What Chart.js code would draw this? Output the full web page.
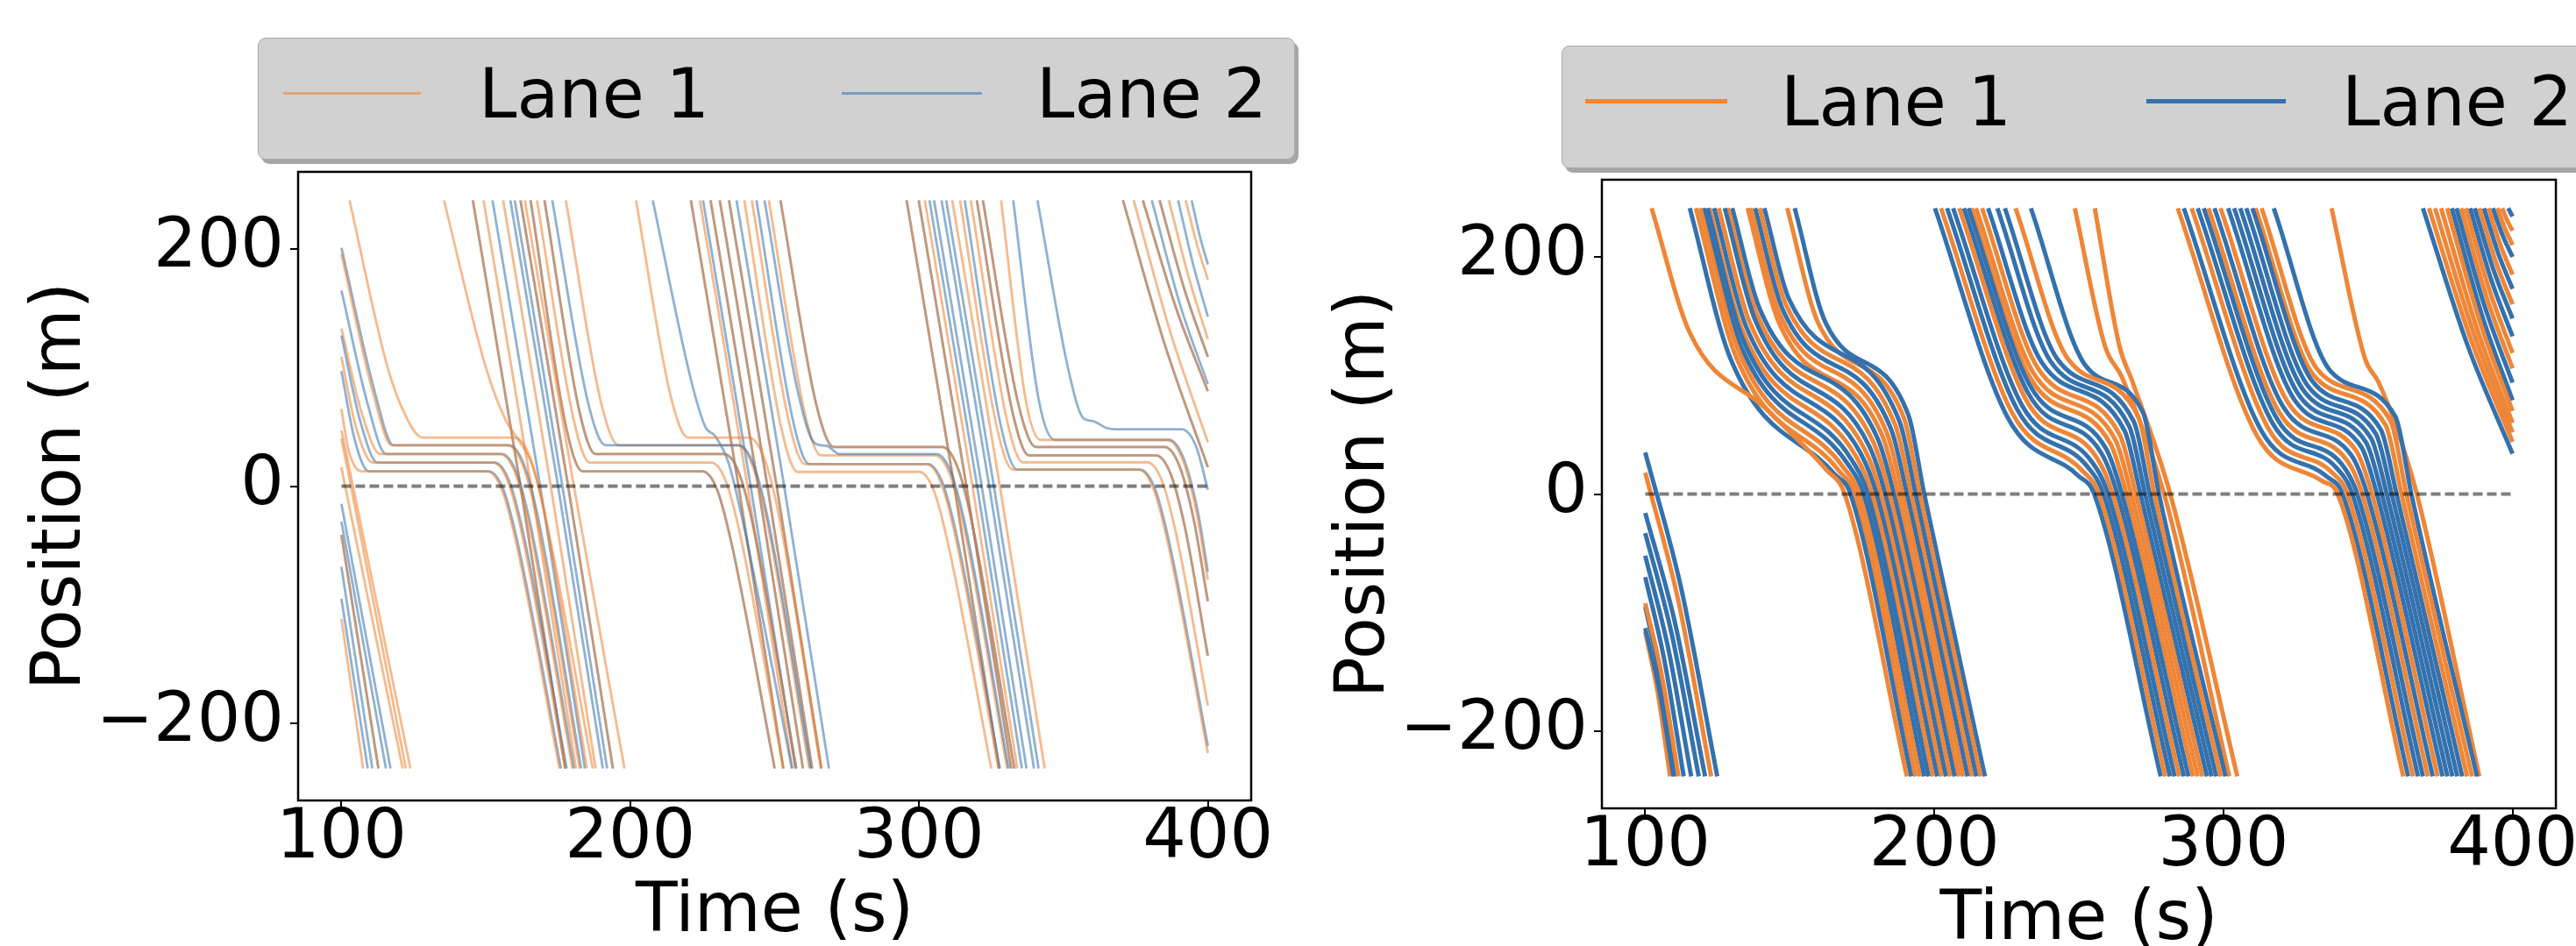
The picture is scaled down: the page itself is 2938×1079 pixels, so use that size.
<!DOCTYPE html>
<html>
<head>
<meta charset="utf-8">
<script src="https://cdn.jsdelivr.net/npm/chart.js@4.4.1/dist/chart.umd.min.js"></script>
<style>
  html, body { margin: 0; padding: 0; background: #fff; overflow: hidden; }
  body { width: 2938px; height: 1079px; position: relative; font-family: 'DejaVu Sans', sans-serif; }
  .wrap { position: absolute; }
  .legend { position: absolute; background: #d1d1d1; border: 1.5px solid #a9a9a9; border-radius: 9px;
            box-shadow: 4px 5px 0 rgba(0,0,0,0.35); box-sizing: border-box; }
  .legend .sw { position: absolute; }
  .legend .lb { position: absolute; font-size: 78px; line-height: 1; color: #000; white-space: nowrap; }
</style>
</head>
<body>
<div class="wrap" style="left:0;top:150px;"><canvas id="leftChart" width="1460" height="945"></canvas></div>
<div class="wrap" style="left:1480px;top:159px;"><canvas id="rightChart" width="1458" height="945"></canvas></div>

<div class="legend" style="left:294px;top:43px;width:1183px;height:139px;">
  <div class="sw" id="lsw1" style="left:28px;top:61px;width:157px;height:3px;"></div>
  <div class="lb" style="left:251px;top:24px;">Lane 1</div>
  <div class="sw" id="lsw2" style="left:665px;top:61px;width:160px;height:3px;"></div>
  <div class="lb" style="left:887px;top:24px;">Lane 2</div>
</div>
<div class="legend" style="left:1781px;top:52px;width:1183px;height:140px;">
  <div class="sw" id="rsw1" style="left:26px;top:60px;width:162px;height:5px;"></div>
  <div class="lb" style="left:249px;top:24px;">Lane 1</div>
  <div class="sw" id="rsw2" style="left:666px;top:60px;width:159px;height:5px;"></div>
  <div class="lb" style="left:889px;top:24px;">Lane 2</div>
</div>

<script>
// axis ticks
const timeTicks = [100, 200, 300, 400];
const posTicks = [-200, 0, 200];
const stopLineT = [100, 400];

// trajectories: lane ('o' lane 1, 'b' lane 2, 'g' both lanes on top of each other), then time,position pairs

// ---------- left panel ----------
const leftStart = [
  ['o', 100,-112, 107.5,-238],
  ['b', 100,-95, 109.1,-238],
  ['b', 100,-68, 110.7,-238],
  ['g', 100,-41, 112.8,-238],
  ['b', 100,-30, 115.4,-238],
  ['b', 100,-15, 117,-238],
  ['o', 100,16, 101.3,0, 121.2,-238],
  ['o', 100,40, 103.3,0, 122.3,-238],
  ['o', 100,47, 104,0, 123.9,-238]
];
const leftQueue1 = [
  ['o', 100,65, 102.5,30, 107,12.5, 150.5,12.5, 155.5,-2.5, 160.5,-47.5, 175.5,-238],
  ['b', 100,97, 104.5,40, 109.5,12.5, 151,12.5, 156,-2.5, 161,-47.5, 176,-238],
  ['o', 100,109, 105,50, 111,19.8, 152.5,19.8, 157.5,4.8, 162.5,-40.2, 177.5,-238],
  ['b', 100,127, 106.5,55, 112.5,19.8, 153,19.8, 158,4.8, 163,-40.2, 178,-238],
  ['o', 100,133, 107,62, 113.5,27, 155,27, 160,12, 165,-33, 180,-238],
  ['b', 100,165, 109,70, 115.5,27, 155.5,27, 160.5,12, 165.5,-33, 180.5,-238],
  ['o', 100,196, 111,78, 117.5,34.4, 157.5,34.4, 162.5,19.4, 167.5,-25.6, 182.5,-238],
  ['b', 100,201, 111.5,80, 118,34.4, 158,34.4, 163,19.4, 168,-25.6, 183,-238],
  ['o', 102.8,241, 116,100, 122.5,58, 128,41, 160,41, 165,26, 170,-19, 185,-238],
  ['o', 135.5,241, 150,100, 157,55, 161,40, 166,18, 171,-30, 187,-238]
];
const leftPass1 = [
  ['g', 145.5,241, 162,0, 177.5,-238],
  ['o', 149.2,241, 165.7,0, 181.2,-238],
  ['b', 152.3,241, 168.8,0, 184.3,-238],
  ['o', 156,241, 172.5,0, 188,-238],
  ['b', 158.5,241, 175,0, 190.5,-238],
  ['b', 160,241, 176.5,0, 192,-238],
  ['g', 162,241, 178.5,0, 194,-238],
  ['o', 163.5,241, 180.5,0, 198,-238]
];
const leftQueue2 = [
  ['g', 165.5,241, 178,47.5, 183.5,12.5, 225,12.5, 230,-2.5, 235,-47.5, 250,-238],
  ['o', 167.7,241, 180.5,55, 186,19.8, 228,19.8, 233,4.8, 238,-40.2, 253,-238],
  ['g', 170.3,241, 182.5,62, 188,27, 232.5,27, 237.5,12, 242.5,-33, 257.5,-238],
  ['b', 173,241, 185.5,69.4, 191.5,34.4, 237.5,34.4, 242.5,19.4, 247.5,-25.6, 262.5,-238],
  ['o', 177.7,241, 190,69.4, 196,34.4, 237,34.4, 242,19.4, 247,-25.6, 262,-238],
  ['o', 202,241, 214,76, 220,41, 241,41, 246,26, 251,-19, 266,-238],
  ['b', 207.8,241, 221,90, 226,50, 229.5,42, 234,20, 239,-30, 256,-238]
];
const leftPass2 = [
  ['g', 221,241, 237.5,0, 253,-238],
  ['o', 224.1,241, 240.6,0, 256.1,-238],
  ['b', 225.2,241, 241.7,0, 257.2,-238],
  ['g', 227.8,241, 244.3,0, 259.8,-238],
  ['g', 231,241, 247.5,0, 263,-238],
  ['g', 234.2,241, 250.7,0, 266.2,-238],
  ['b', 236.8,241, 253.3,0, 268.8,-238]
];
const leftQueue3 = [
  ['o', 239.5,241, 252.5,47, 258,12, 300,12, 305,-3, 310,-48, 325,-238],
  ['o', 242.1,241, 255,53.6, 260.5,18.6, 302.5,18.6, 307.5,3.6, 312.5,-41.4, 327.5,-238],
  ['b', 243.7,241, 256.5,53.6, 262,18.6, 303,18.6, 308,3.6, 313,-41.4, 328,-238],
  ['b', 246.5,241, 258,80, 264,36, 268,34, 272.5,27, 306,27, 311,12, 316,-33, 331,-238],
  ['o', 248,241, 260.5,61, 266,26, 305.5,26, 310.5,11, 315.5,-34, 330.5,-238],
  ['g', 252,241, 264.5,68, 270.5,33, 308,33, 313,18, 318,-27, 333,-238]
];
const leftPass3 = [
  ['g', 295.7,241, 312.2,0, 327.7,-238],
  ['g', 299.9,241, 316.4,0, 331.9,-238],
  ['o', 302,241, 318.5,0, 334,-238],
  ['b', 303.6,241, 320.1,0, 335.6,-238],
  ['b', 305.2,241, 321.7,0, 337.2,-238],
  ['b', 307.8,241, 324.3,0, 339.8,-238],
  ['b', 309.4,241, 325.9,0, 341.4,-238],
  ['o', 311.5,241, 328,0, 343.5,-238]
];
const leftQueue4 = [
  ['o', 314.2,241, 327,49, 332.5,14, 376,14, 381,-1, 386,-46, 400,-225],
  ['b', 315.8,241, 328.5,49, 334,14, 376.5,14, 381.5,-1, 386.5,-46, 400,-219],
  ['o', 317.9,241, 330.5,55, 336,20, 379,20, 384,5, 389,-40, 400,-185],
  ['g', 320,241, 332.5,61, 338,26, 382,26, 387,11, 392,-34, 400,-143],
  ['g', 322.1,241, 334.5,68, 340.5,33, 385,33, 390,18, 395,-27, 400,-97],
  ['o', 328.4,241, 337,72, 342,39, 386,39, 391,24, 396,-21, 400,-79],
  ['b', 332.6,241, 341.5,72, 347,39, 386.5,39, 391.5,24, 396.5,-21, 400,-72],
  ['b', 341,241, 352,95, 357,57, 360,55, 365,49, 368,48, 391,48, 396,33, 400,-3]
];
const leftPass4 = [
  ['g', 370.6,241, 385,120, 400,16],
  ['o', 374.3,241, 387,130, 400,37],
  ['g', 377.5,241, 389,150, 400,80],
  ['b', 380.6,241, 390.5,152, 400,86],
  ['g', 383.3,241, 392,165, 400,109],
  ['o', 386.5,241, 393.5,175, 400,124],
  ['b', 389.7,241, 395,186, 400,143],
  ['o', 392.3,241, 396.2,204, 400,174],
  ['b', 394.4,241, 397.2,211, 400,187]
];

// ---------- right panel ----------
const rightStart = [
  ['b', 100,35, 112.45,-79.7, 124.9,-238],
  ['o', 100,18, 111.4,-89.5, 122.8,-238],
  ['b', 100,-16, 110.35,-109.2, 120.7,-238],
  ['b', 100,-33, 109.25,-119.1, 118.5,-238],
  ['b', 100,-52, 107.95,-130.1, 115.9,-238],
  ['b', 100,-70, 106.65,-140.6, 113.3,-238],
  ['o', 100,-92, 105.75,-153.3, 111.5,-238],
  ['b', 100,-95, 105.25,-155, 110.5,-238],
  ['b', 100,-113, 104.9,-165.5, 109.8,-238],
  ['o', 100,-116, 104.3,-167.2, 108.6,-238]
];
const rightWave1 = [
  ['o', 102.2,241, 115.4,136, 141.7,72, 162.8,20, 169,0, 190.5,-238],
  ['b', 115.4,241, 129.5,114, 165.5,16.7, 171,0, 192,-238],
  ['o', 117.5,241, 131.4,115.9, 167,19.6, 172.5,0, 193.5,-238],
  ['o', 119,241, 132.5,119.5, 168.5,22.6, 174,0, 195,-238],
  ['b', 120.1,241, 132.9,125.8, 170,25.5, 175.5,0, 196.5,-238],
  ['b', 121.5,241, 133.8,130.3, 171.5,28.5, 177,0, 198,-238],
  ['o', 122.2,241, 133.7,137.5, 173,31.4, 178.5,0, 199.5,-238],
  ['b', 123.8,241, 134.9,141.1, 174.5,34.4, 180,0, 201,-238],
  ['o', 125.4,241, 136,145.6, 176,37.3, 181.5,0, 202.5,-238],
  ['b', 127.5,241, 137.9,147.4, 177.5,40.3, 183,0, 204,-238],
  ['o', 128.6,241, 138.4,152.8, 179,43.2, 184.5,0, 205.5,-238],
  ['b', 130.1,241, 139.4,157.3, 180.5,46.2, 186,0, 207,-238],
  ['o', 135.4,241, 145.9,146.5, 182,49.1, 187.5,0, 208.5,-238],
  ['o', 136.5,241, 146.3,152.8, 183.5,52.1, 189,0, 210,-238],
  ['b', 138,241, 147.4,156.4, 185,55, 190.5,0, 211.5,-238],
  ['o', 139.6,241, 148.6,160, 186.5,58, 192,0, 213,-238],
  ['b', 141.2,241, 149.7,164.5, 188,60.9, 193.5,0, 214.5,-238],
  ['o', 149.1,241, 159.9,143.8, 189.5,63.9, 195,0, 216,-238],
  ['b', 151.7,241, 162.5,143.8, 191,66.8, 196.5,0, 217.5,-238]
];
const rightWave2 = [
  ['b', 200.2,241, 225.5,63.9, 249.8,15.4, 255.3,0, 278.3,-238],
  ['o', 202.3,241, 227,68.1, 251.4,19.2, 256.9,0, 279.9,-238],
  ['b', 204.4,241, 228.6,71.6, 253,23, 258.5,0, 281.5,-238],
  ['b', 206.5,241, 230.1,75.8, 254.6,26.8, 260.1,0, 283.1,-238],
  ['o', 208.6,241, 231.6,80, 256.2,30.6, 261.7,0, 284.7,-238],
  ['b', 210.2,241, 232.5,84.9, 257.8,34.4, 263.3,0, 286.3,-238],
  ['b', 211.8,241, 233.3,90.5, 259.4,38.2, 264.9,0, 287.9,-238],
  ['o', 212.8,241, 233.3,97.5, 261,42, 266.5,0, 289.5,-238],
  ['o', 214.4,241, 234.2,102.4, 262.6,45.8, 268.1,0, 291.1,-238],
  ['o', 216.5,241, 235.7,106.6, 264.2,49.6, 269.7,0, 292.7,-238],
  ['b', 218.6,241, 237.2,110.8, 265.8,53.4, 271.3,0, 294.3,-238],
  ['b', 221.8,241, 240.3,111.5, 267.4,57.2, 272.9,0, 295.9,-238],
  ['b', 224.4,241, 242.6,113.6, 269,61, 274.5,0, 297.5,-238],
  ['o', 228.1,241, 246.3,113.6, 270.6,64.8, 276.1,0, 299.1,-238],
  ['b', 233.4,241, 252.4,108, 272.2,68.6, 277.7,0, 300.7,-238],
  ['o', 248.6,241, 259,125, 265,98, 279.5,0, 302,-238],
  ['o', 255.5,241, 264,125, 268.5,95, 281.6,0, 304.8,-238]
];
const rightWave3 = [
  ['o', 284.2,241, 311.6,49.2, 334,11.2, 339.5,0, 362.2,-238],
  ['b', 286.3,241, 313.1,53.4, 335.7,14.8, 341.2,0, 363.9,-238],
  ['o', 289,241, 315.5,55.5, 337.4,18.4, 342.9,0, 365.6,-238],
  ['b', 291.1,241, 317,59.7, 339.1,22, 344.6,0, 367.3,-238],
  ['b', 293.2,241, 318.6,63.2, 340.8,25.6, 346.3,0, 369,-238],
  ['o', 294.8,241, 319.5,68.1, 342.5,29.2, 348,0, 370.7,-238],
  ['b', 296.9,241, 321,72.3, 344.2,32.9, 349.7,0, 372.4,-238],
  ['o', 299,241, 322.5,76.5, 345.9,36.5, 351.4,0, 374.1,-238],
  ['b', 301.6,241, 324.8,78.6, 347.6,40.1, 353.1,0, 375.8,-238],
  ['b', 303.7,241, 326.3,82.8, 349.3,43.7, 354.8,0, 377.5,-238],
  ['b', 305.8,241, 327.8,87, 351,47.3, 356.5,0, 379.2,-238],
  ['b', 307.9,241, 329.4,90.5, 352.7,50.9, 358.2,0, 380.9,-238],
  ['b', 310,241, 330.9,94.7, 354.4,54.5, 359.9,0, 382.6,-238],
  ['o', 311.1,241, 331.2,100.3, 356.1,58.1, 361.6,0, 384.3,-238],
  ['o', 313.2,241, 332.7,104.5, 357.8,61.7, 363.3,0, 386,-238],
  ['b', 317.4,241, 337,103.8, 359.5,65.3, 365,0, 387.7,-238],
  ['o', 337.4,241, 349,114, 353.5,95, 359,62, 366.9,0, 388.5,-238]
];
const rightWave4 = [
  ['b', 369,241, 384.5,125.1, 400,34],
  ['o', 371.1,241, 385.55,130.7, 400,44],
  ['o', 373.2,241, 386.6,135.2, 400,52],
  ['o', 375.3,241, 387.65,139.6, 400,60],
  ['o', 377.4,241, 388.7,145.2, 400,70],
  ['b', 379,241, 389.5,150.3, 400,79],
  ['b', 380.6,241, 390.3,158.7, 400,94],
  ['o', 382.2,241, 391.1,165.4, 400,106],
  ['o', 383.8,241, 391.9,172.7, 400,119],
  ['b', 385.3,241, 392.65,180.5, 400,133],
  ['b', 386.9,241, 393.45,188.9, 400,148],
  ['o', 388.5,241, 394.25,195.6, 400,160],
  ['b', 390.1,241, 395.05,202.9, 400,173],
  ['o', 391.7,241, 395.85,209.6, 400,185],
  ['b', 393.2,241, 396.6,218, 400,200],
  ['o', 394.8,241, 397.4,223.6, 400,210],
  ['o', 396.4,241, 398.2,230.4, 400,222],
  ['b', 398.5,241, 400,234]
];

const leftColors = { o: 'rgba(237,130,50,0.55)', b: 'rgba(52,113,173,0.55)' };
const rightColors = { o: 'rgb(238,134,56)', b: 'rgb(52,113,173)' };

document.getElementById('lsw1').style.background = leftColors.o;
document.getElementById('lsw2').style.background = leftColors.b;
document.getElementById('rsw1').style.background = rightColors.o;
document.getElementById('rsw2').style.background = rightColors.b;

function buildSets(groups, colors, width) {
  const sets = [{
    data: stopLineT.map(t => ({ x: t, y: 0 })),
    borderColor: 'rgba(0,0,0,0.5)', borderWidth: 4, borderDash: [11, 5],
    pointRadius: 0, order: -1
  }];
  groups.forEach(group => group.forEach(tr => {
    const pts = [];
    for (let i = 1; i < tr.length; i += 2) pts.push({ x: tr[i], y: tr[i + 1] });
    const lanes = tr[0] === 'g' ? ['o', 'b'] : [tr[0]];
    lanes.forEach(l => sets.push({
      data: pts, borderColor: colors[l], borderWidth: width,
      pointRadius: 0, cubicInterpolationMode: 'monotone', fill: false
    }));
  }));
  return sets;
}

const bigFont = { family: 'DejaVu Sans', size: 78, lineHeight: 1 };
const fmt = v => (v < 0 ? '\u2212' + Math.abs(v) : String(v));

// axes box, all four sides like matplotlib
const frame = {
  id: 'frame',
  afterDraw(chart) {
    const { ctx, chartArea: a } = chart;
    ctx.save();
    ctx.strokeStyle = '#000';
    ctx.lineWidth = 2.5;
    ctx.strokeRect(a.left, a.top, a.right - a.left, a.bottom - a.top);
    ctx.restore();
  }
};

function makeChart(id, sets, pad, yWidth, yTitlePad) {
  return new Chart(document.getElementById(id), {
    type: 'line',
    data: { datasets: sets },
    options: {
      responsive: false,
      animation: false,
      devicePixelRatio: 1,
      layout: { padding: pad },
      plugins: { legend: { display: false }, tooltip: { enabled: false } },
      scales: {
        x: {
          type: 'linear', min: 85, max: 415,
          afterBuildTicks: s => { s.ticks = timeTicks.map(v => ({ value: v })); },
          afterFit: s => { s.height = 182; },
          grid: { drawOnChartArea: false, color: '#000', lineWidth: 2, tickLength: 9 },
          border: { display: false },
          ticks: { font: bigFont, color: '#000', padding: -3, maxRotation: 0, autoSkip: false, callback: fmt },
          title: { display: true, text: 'Time (s)', font: bigFont, color: '#000', padding: { top: 0, bottom: 14 } }
        },
        y: {
          type: 'linear', min: -265, max: 265,
          afterBuildTicks: s => { s.ticks = posTicks.map(v => ({ value: v })); },
          afterFit: s => { s.width = yWidth; },
          grid: { drawOnChartArea: false, color: '#000', lineWidth: 2, tickLength: 9 },
          border: { display: false },
          ticks: { font: bigFont, color: '#000', padding: 7, autoSkip: false, callback: fmt },
          title: { display: true, text: 'Position (m)', font: bigFont, color: '#000', padding: { top: yTitlePad, bottom: 0 } }
        }
      }
    },
    plugins: [frame]
  });
}

makeChart('leftChart',
  buildSets([leftStart, leftQueue1, leftPass1, leftQueue2, leftPass2, leftQueue3, leftPass3, leftQueue4, leftPass4], leftColors, 2.8),
  { top: 41, right: 33, left: 0, bottom: 0 }, 340, 32);

makeChart('rightChart',
  buildSets([rightStart, rightWave1, rightWave2, rightWave3, rightWave4], rightColors, 5),
  { top: 42, right: 21, left: 0, bottom: 0 }, 347, 39);
</script>
</body>
</html>
